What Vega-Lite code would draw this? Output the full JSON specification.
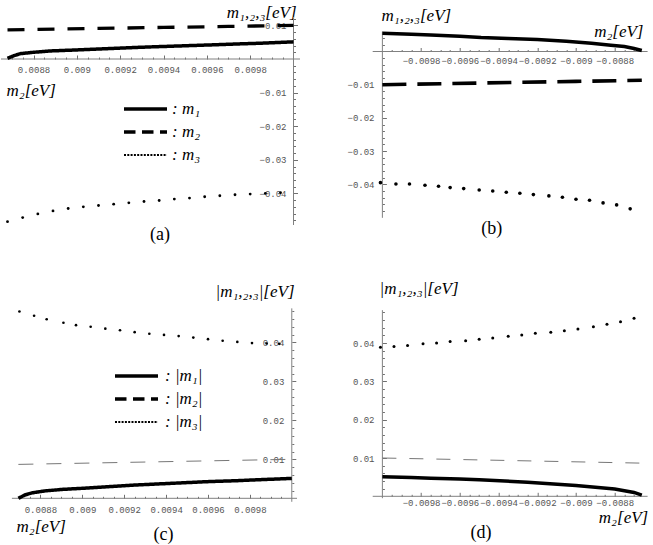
{
  "$schema": "https://vega.github.io/schema/vega-lite/v6.json",
  "padding": 0,
  "background": "white",
  "bounds": "flush",
  "columns": 2,
  "spacing": {"row": 82, "column": 72.7},
  "resolve": {
    "scale": {"strokeDash": "independent", "strokeWidth": "independent"},
    "legend": {"strokeDash": "independent", "strokeWidth": "independent"}
  },
  "config": {
    "view": {"stroke": null},
    "title": {"font": "Liberation Serif", "fontSize": 18, "fontWeight": "normal", "color": "black"},
    "axis": {
      "grid": false, "domain": false, "format": "~g",
      "labelFont": "Liberation Mono", "labelFontSize": 9, "labelColor": "#555",
      "labelFlush": false, "labelOverlap": false, "labelAngle": 0,
      "tickColor": "#707070", "tickSize": -4,
      "titleFont": "Liberation Serif", "titleFontSize": 17, "titleFontStyle": "italic",
      "titleFontWeight": "normal", "titleColor": "black", "titleAngle": 0, "titlePadding": 0
    },
    "legend": {
      "orient": "none", "title": null, "symbolType": "M-4,0H4", "symbolSize": 115.6,
      "symbolStrokeColor": "black", "symbolFillColor": "transparent",
      "labelFont": "Liberation Serif", "labelFontSize": 17,
      "labelFontStyle": "italic", "labelColor": "black", "rowPadding": 5, "padding": 0
    }
  },
  "datasets": {
    "a": [
      {"s": "1", "x": 0.00868, "y": 0.0002}, {"s": "1", "x": 0.00871, "y": 0.0010}, {"s": "1", "x": 0.00874, "y": 0.0016},
      {"s": "1", "x": 0.0088, "y": 0.0020}, {"s": "1", "x": 0.00888, "y": 0.0024}, {"s": "1", "x": 0.009, "y": 0.0027},
      {"s": "1", "x": 0.00911, "y": 0.0030}, {"s": "1", "x": 0.00922, "y": 0.0033}, {"s": "1", "x": 0.00934, "y": 0.0036},
      {"s": "1", "x": 0.00948, "y": 0.0039}, {"s": "1", "x": 0.00962, "y": 0.0042}, {"s": "1", "x": 0.00975, "y": 0.0045},
      {"s": "1", "x": 0.00985, "y": 0.0047}, {"s": "1", "x": 0.01, "y": 0.0051},
      {"s": "2", "x": 0.00868, "y": 0.00868}, {"s": "2", "x": 0.0091, "y": 0.0091}, {"s": "2", "x": 0.0094, "y": 0.0094},
      {"s": "2", "x": 0.0097, "y": 0.0097}, {"s": "2", "x": 0.01, "y": 0.01},
      {"s": "3", "x": 0.00868, "y": -0.0484}, {"s": "3", "x": 0.00875, "y": -0.0472}, {"s": "3", "x": 0.00882, "y": -0.0461},
      {"s": "3", "x": 0.00889, "y": -0.0452}, {"s": "3", "x": 0.00896, "y": -0.0445}, {"s": "3", "x": 0.00903, "y": -0.0440},
      {"s": "3", "x": 0.0091, "y": -0.0436}, {"s": "3", "x": 0.00917, "y": -0.0432}, {"s": "3", "x": 0.00924, "y": -0.0428},
      {"s": "3", "x": 0.00931, "y": -0.0424}, {"s": "3", "x": 0.00938, "y": -0.0421}, {"s": "3", "x": 0.00945, "y": -0.0417},
      {"s": "3", "x": 0.00952, "y": -0.0414}, {"s": "3", "x": 0.00959, "y": -0.0410}, {"s": "3", "x": 0.00966, "y": -0.0407},
      {"s": "3", "x": 0.00973, "y": -0.0404}, {"s": "3", "x": 0.0098, "y": -0.0402}, {"s": "3", "x": 0.00987, "y": -0.0400},
      {"s": "3", "x": 0.00994, "y": -0.0398}
    ],
    "b": [
      {"s": "1", "x": -0.01, "y": 0.0055}, {"s": "1", "x": -0.00985, "y": 0.0052}, {"s": "1", "x": -0.00975, "y": 0.0050},
      {"s": "1", "x": -0.0096, "y": 0.0046}, {"s": "1", "x": -0.00949, "y": 0.0042}, {"s": "1", "x": -0.00935, "y": 0.0039},
      {"s": "1", "x": -0.0092, "y": 0.0036}, {"s": "1", "x": -0.00905, "y": 0.0031}, {"s": "1", "x": -0.00892, "y": 0.0025},
      {"s": "1", "x": -0.00882, "y": 0.0019}, {"s": "1", "x": -0.00875, "y": 0.0015}, {"s": "1", "x": -0.0087, "y": 0.0009},
      {"s": "1", "x": -0.00866, "y": 0.0003},
      {"s": "2", "x": -0.01, "y": -0.01}, {"s": "2", "x": -0.0095, "y": -0.0095}, {"s": "2", "x": -0.009, "y": -0.009},
      {"s": "2", "x": -0.00866, "y": -0.00866},
      {"s": "3", "x": -0.01001, "y": -0.0395}, {"s": "3", "x": -0.00993, "y": -0.0399}, {"s": "3", "x": -0.00986, "y": -0.0399},
      {"s": "3", "x": -0.00978, "y": -0.0403}, {"s": "3", "x": -0.00971, "y": -0.0406}, {"s": "3", "x": -0.00965, "y": -0.0410},
      {"s": "3", "x": -0.00958, "y": -0.0413}, {"s": "3", "x": -0.0095, "y": -0.0417}, {"s": "3", "x": -0.00943, "y": -0.0420},
      {"s": "3", "x": -0.00936, "y": -0.0424}, {"s": "3", "x": -0.00929, "y": -0.0427}, {"s": "3", "x": -0.00922, "y": -0.0431},
      {"s": "3", "x": -0.00914, "y": -0.0435}, {"s": "3", "x": -0.00907, "y": -0.0439}, {"s": "3", "x": -0.009, "y": -0.0445},
      {"s": "3", "x": -0.00893, "y": -0.0448}, {"s": "3", "x": -0.00886, "y": -0.0456}, {"s": "3", "x": -0.00879, "y": -0.0462},
      {"s": "3", "x": -0.00872, "y": -0.0474}
    ],
    "c": [
      {"s": "1", "x": 0.008695, "y": 0.0}, {"s": "1", "x": 0.008726, "y": 0.00085}, {"s": "1", "x": 0.00876, "y": 0.0014},
      {"s": "1", "x": 0.008822, "y": 0.0019}, {"s": "1", "x": 0.00891, "y": 0.0023}, {"s": "1", "x": 0.009013, "y": 0.0026},
      {"s": "1", "x": 0.00913, "y": 0.0030}, {"s": "1", "x": 0.009252, "y": 0.0034}, {"s": "1", "x": 0.00937, "y": 0.0037},
      {"s": "1", "x": 0.00949, "y": 0.0040}, {"s": "1", "x": 0.00961, "y": 0.0043}, {"s": "1", "x": 0.009729, "y": 0.0045},
      {"s": "1", "x": 0.00986, "y": 0.0048}, {"s": "1", "x": 0.01, "y": 0.0051},
      {"s": "2", "x": 0.008695, "y": 0.008695}, {"s": "2", "x": 0.0093, "y": 0.0093}, {"s": "2", "x": 0.01, "y": 0.01},
      {"s": "3", "x": 0.0087, "y": 0.0479}, {"s": "3", "x": 0.00877, "y": 0.0468}, {"s": "3", "x": 0.00883, "y": 0.0459},
      {"s": "3", "x": 0.00891, "y": 0.0450}, {"s": "3", "x": 0.00897, "y": 0.0444}, {"s": "3", "x": 0.00904, "y": 0.0440},
      {"s": "3", "x": 0.00911, "y": 0.0435}, {"s": "3", "x": 0.00918, "y": 0.0431}, {"s": "3", "x": 0.00925, "y": 0.0426},
      {"s": "3", "x": 0.00932, "y": 0.0422}, {"s": "3", "x": 0.00939, "y": 0.0419}, {"s": "3", "x": 0.00946, "y": 0.0416},
      {"s": "3", "x": 0.00953, "y": 0.0412}, {"s": "3", "x": 0.0096, "y": 0.0408}, {"s": "3", "x": 0.00967, "y": 0.0404},
      {"s": "3", "x": 0.00974, "y": 0.0401}, {"s": "3", "x": 0.00981, "y": 0.0398}, {"s": "3", "x": 0.00988, "y": 0.0397},
      {"s": "3", "x": 0.00994, "y": 0.0396}
    ],
    "d": [
      {"s": "1", "x": -0.01, "y": 0.0051}, {"s": "1", "x": -0.00985, "y": 0.0049}, {"s": "1", "x": -0.00975, "y": 0.0047},
      {"s": "1", "x": -0.0096, "y": 0.0045}, {"s": "1", "x": -0.0095, "y": 0.0043}, {"s": "1", "x": -0.00925, "y": 0.0037},
      {"s": "1", "x": -0.009, "y": 0.0028}, {"s": "1", "x": -0.0088, "y": 0.0019}, {"s": "1", "x": -0.0087, "y": 0.0010},
      {"s": "1", "x": -0.00866, "y": 0.0003},
      {"s": "2", "x": -0.01, "y": 0.01}, {"s": "2", "x": -0.0093, "y": 0.0093}, {"s": "2", "x": -0.00866, "y": 0.00866},
      {"s": "3", "x": -0.01001, "y": 0.0389}, {"s": "3", "x": -0.00994, "y": 0.0391}, {"s": "3", "x": -0.00987, "y": 0.0394},
      {"s": "3", "x": -0.00979, "y": 0.0398}, {"s": "3", "x": -0.00972, "y": 0.0400}, {"s": "3", "x": -0.00965, "y": 0.0404},
      {"s": "3", "x": -0.00957, "y": 0.0406}, {"s": "3", "x": -0.0095, "y": 0.0410}, {"s": "3", "x": -0.00943, "y": 0.0413},
      {"s": "3", "x": -0.00935, "y": 0.0418}, {"s": "3", "x": -0.00928, "y": 0.0421}, {"s": "3", "x": -0.00921, "y": 0.0426},
      {"s": "3", "x": -0.00913, "y": 0.0428}, {"s": "3", "x": -0.00906, "y": 0.0432}, {"s": "3", "x": -0.00899, "y": 0.0437},
      {"s": "3", "x": -0.00891, "y": 0.0443}, {"s": "3", "x": -0.00884, "y": 0.0449}, {"s": "3", "x": -0.00877, "y": 0.0456},
      {"s": "3", "x": -0.0087, "y": 0.0465}
    ]
  },
  "concat": [
    {
      "width": 299, "height": 226,
      "title": {"text": "(a)", "orient": "bottom", "anchor": "middle", "dx": 9.5, "offset": 0},
      "resolve": {"axis": {"x": "independent", "y": "independent"}},
      "layer": [
        {"data": {"values": [{}]}, "mark": {"type": "rule", "color": "#808080", "strokeWidth": 1},
         "encoding": {"x": {"datum": 0.00865, "axis": null}, "x2": {"datum": 0.01003}, "y": {"datum": 0, "axis": null}}},
        {"data": {"values": [{}]}, "mark": {"type": "rule", "color": "#808080", "strokeWidth": 1},
         "encoding": {"x": {"datum": 0.01, "axis": null}, "y": {"datum": -0.0494, "axis": null}, "y2": {"datum": 0.0125}}},
        {"data": {"name": "a"}, "transform": [{"filter": "datum.s == '3'"}],
         "mark": {"type": "point", "shape": "circle", "filled": true, "size": 8, "opacity": 1, "color": "black"},
         "encoding": {"x": {"field": "x", "type": "quantitative", "axis": null}, "y": {"field": "y", "type": "quantitative", "axis": null}}},
        {"data": {"name": "a"}, "transform": [{"filter": "datum.s == '2'"}],
         "mark": {"type": "line", "color": "black", "strokeWidth": 3.3, "strokeDash": [17, 13]},
         "encoding": {
           "x": {"field": "x", "type": "quantitative",
             "axis": {"orient": "bottom", "offset": -167, "labels": false, "title": null, "tickSize": -2,
               "values": [0.0087,0.00875,0.00885,0.0089,0.00895,0.00905,0.0091,0.00915,0.00925,0.0093,0.00935,0.00945,0.0095,0.00955,0.00965,0.0097,0.00975,0.00985,0.0099,0.00995]}},
           "y": {"field": "y", "type": "quantitative",
             "axis": {"orient": "left", "offset": -292.5, "labels": false, "title": null, "tickSize": -2,
               "values": [-0.048,-0.046,-0.044,-0.042,-0.038,-0.036,-0.034,-0.032,-0.028,-0.026,-0.024,-0.022,-0.018,-0.016,-0.014,-0.012,-0.008,-0.006,-0.004,-0.002,0.002,0.004,0.006,0.008,0.012]}}}},
        {"data": {"name": "a"}, "transform": [{"filter": "datum.s == '1'"}],
         "mark": {"type": "line", "color": "black"},
         "encoding": {
           "x": {"field": "x", "type": "quantitative",
             "scale": {"domain": [0.00865, 0.01003], "nice": false, "zero": false},
             "axis": {"orient": "bottom", "offset": -167,
               "values": [0.0088,0.009,0.0092,0.0094,0.0096,0.0098],
               "labelPadding": 10, "labelBaseline": "top", "labelAlign": "center",
               "title": "m₂[eV]", "titleX": 5, "titleY": 31, "titleAlign": "left", "titleBaseline": "middle"}},
           "y": {"field": "y", "type": "quantitative",
             "scale": {"domain": [-0.0497, 0.01756], "nice": false, "zero": false},
             "axis": {"orient": "left", "offset": -292.5,
               "values": [-0.04,-0.03,-0.02,-0.01,0.01],
               "labelPadding": 11.5, "labelAlign": "right", "labelBaseline": "middle",
               "title": "m₁,₂,₃[eV]", "titleX": 2.5, "titleY": 12.7, "titleAlign": "right", "titleBaseline": "middle"}},
           "strokeDash": {"field": "s", "type": "nominal",
             "scale": {"domain": ["1", "2", "3"], "range": [[1, 0], [11.5, 6.5], [2, 1.3]]},
             "legend": {"legendX": 136, "legendY": 100.5, "labelOffset": 18,
               "labelExpr": "': m' + (datum.label == '1' ? '₁' : datum.label == '2' ? '₂' : '₃')"}},
           "strokeWidth": {"field": "s", "type": "nominal",
             "scale": {"type": "ordinal", "domain": ["1", "2", "3"], "range": [3.5, 3.5, 2]},
             "legend": {"legendX": 136, "legendY": 100.5, "labelOffset": 18,
               "labelExpr": "': m' + (datum.label == '1' ? '₁' : datum.label == '2' ? '₂' : '₃')"}}
         }}
      ]
    },
    {
      "width": 272, "height": 226,
      "title": {"text": "(b)", "orient": "bottom", "anchor": "middle", "dx": -17, "offset": -6},
      "resolve": {"axis": {"x": "independent", "y": "independent"}},
      "layer": [
        {"data": {"values": [{}]}, "mark": {"type": "rule", "color": "#808080", "strokeWidth": 1},
         "encoding": {"x": {"datum": -0.01005, "axis": null}, "x2": {"datum": -0.00863}, "y": {"datum": 0, "axis": null}}},
        {"data": {"values": [{}]}, "mark": {"type": "rule", "color": "#808080", "strokeWidth": 1},
         "encoding": {"x": {"datum": -0.01, "axis": null}, "y": {"datum": -0.0501, "axis": null}, "y2": {"datum": 0.006}}},
        {"data": {"name": "b"}, "transform": [{"filter": "datum.s == '3'"}],
         "mark": {"type": "point", "shape": "circle", "filled": true, "size": 13, "opacity": 1, "color": "black"},
         "encoding": {"x": {"field": "x", "type": "quantitative", "axis": null}, "y": {"field": "y", "type": "quantitative", "axis": null}}},
        {"data": {"name": "b"}, "transform": [{"filter": "datum.s == '2'"}],
         "mark": {"type": "line", "color": "black", "strokeWidth": 3.6, "strokeDash": [24, 11]},
         "encoding": {
           "x": {"field": "x", "type": "quantitative",
             "axis": {"orient": "bottom", "offset": -174.5, "labels": false, "title": null, "tickSize": -2,
               "values": [-0.00995,-0.0099,-0.00985,-0.00975,-0.0097,-0.00965,-0.00955,-0.0095,-0.00945,-0.00935,-0.0093,-0.00925,-0.00915,-0.0091,-0.00905,-0.00895,-0.0089,-0.00885,-0.00875,-0.0087]}},
           "y": {"field": "y", "type": "quantitative",
             "axis": {"orient": "left", "offset": -9.7, "labels": false, "title": null, "tickSize": -2,
               "values": [-0.048,-0.046,-0.044,-0.042,-0.038,-0.036,-0.034,-0.032,-0.028,-0.026,-0.024,-0.022,-0.018,-0.016,-0.014,-0.012,-0.008,-0.006,-0.004,-0.002,0.002,0.004]}}}},
        {"data": {"name": "b"}, "transform": [{"filter": "datum.s == '1'"}],
         "mark": {"type": "line", "color": "black", "strokeWidth": 3.5},
         "encoding": {
           "x": {"field": "x", "type": "quantitative",
             "scale": {"domain": [-0.01005, -0.008645], "nice": false, "zero": false},
             "axis": {"orient": "bottom", "offset": -174.5,
               "values": [-0.0098,-0.0096,-0.0094,-0.0092,-0.009,-0.0088],
               "labelPadding": 8.5, "labelBaseline": "top", "labelAlign": "center",
               "title": "m₂[eV]", "titleX": 270.3, "titleY": -20, "titleAlign": "right", "titleBaseline": "middle"}},
           "y": {"field": "y", "type": "quantitative",
             "scale": {"domain": [-0.05256, 0.015512], "nice": false, "zero": false},
             "axis": {"orient": "left", "offset": -9.7,
               "values": [-0.04,-0.03,-0.02,-0.01],
               "labelPadding": 12.4, "labelAlign": "right", "labelBaseline": "middle",
               "title": "m₁,₂,₃[eV]", "titleX": -1.4, "titleY": 15, "titleAlign": "left", "titleBaseline": "middle"}}
         }}
      ]
    },
    {
      "width": 299, "height": 193.5,
      "title": {"text": "(c)", "orient": "bottom", "anchor": "middle", "dx": 13, "offset": -9},
      "resolve": {"axis": {"x": "independent", "y": "independent"}},
      "layer": [
        {"data": {"values": [{}]}, "mark": {"type": "rule", "color": "#808080", "strokeWidth": 1},
         "encoding": {"x": {"datum": 0.008664, "axis": null}, "x2": {"datum": 0.010025}, "y": {"datum": 0, "axis": null}}},
        {"data": {"values": [{}]}, "mark": {"type": "rule", "color": "#808080", "strokeWidth": 1},
         "encoding": {"x": {"datum": 0.01, "axis": null}, "y": {"datum": -0.0009, "axis": null}, "y2": {"datum": 0.0487}}},
        {"data": {"name": "c"}, "transform": [{"filter": "datum.s == '3'"}],
         "mark": {"type": "point", "shape": "circle", "filled": true, "size": 7, "opacity": 1, "color": "black"},
         "encoding": {"x": {"field": "x", "type": "quantitative", "axis": null}, "y": {"field": "y", "type": "quantitative", "axis": null}}},
        {"data": {"name": "c"}, "transform": [{"filter": "datum.s == '2'"}],
         "mark": {"type": "line", "color": "#777", "strokeWidth": 1, "strokeDash": [15, 13]},
         "encoding": {
           "x": {"field": "x", "type": "quantitative",
             "axis": {"orient": "bottom", "offset": -3.2, "labels": false, "title": null, "tickSize": -2,
               "values": [0.0087,0.00875,0.00885,0.0089,0.00895,0.00905,0.0091,0.00915,0.00925,0.0093,0.00935,0.00945,0.0095,0.00955,0.00965,0.0097,0.00975,0.00985,0.0099,0.00995]}},
           "y": {"field": "y", "type": "quantitative",
             "axis": {"orient": "left", "offset": -290.8, "labels": false, "title": null, "tickSize": -2,
               "values": [0.002,0.004,0.006,0.008,0.012,0.014,0.016,0.018,0.022,0.024,0.026,0.028,0.032,0.034,0.036,0.038,0.042,0.044,0.046,0.048]}}}},
        {"data": {"name": "c"}, "transform": [{"filter": "datum.s == '1'"}],
         "mark": {"type": "line", "color": "black"},
         "encoding": {
           "x": {"field": "x", "type": "quantitative",
             "scale": {"domain": [0.008612, 0.0100392], "nice": false, "zero": false},
             "axis": {"orient": "bottom", "offset": -3.2,
               "values": [0.0088,0.009,0.0092,0.0094,0.0096,0.0098],
               "labelPadding": 11.4, "labelBaseline": "top", "labelAlign": "center",
               "title": "m₂[eV]", "titleX": 15, "titleY": 28.4, "titleAlign": "left", "titleBaseline": "middle"}},
           "y": {"field": "y", "type": "quantitative",
             "scale": {"domain": [-0.00082, 0.048795], "nice": false, "zero": false},
             "axis": {"orient": "left", "offset": -290.8,
               "values": [0.01,0.02,0.03,0.04],
               "labelPadding": 12, "labelAlign": "right", "labelBaseline": "middle",
               "title": "|m₁,₂,₃|[eV]", "titleX": 2.2, "titleY": -16.3, "titleAlign": "right", "titleBaseline": "middle"}},
           "strokeDash": {"field": "s", "type": "nominal",
             "scale": {"domain": ["1", "2", "3"], "range": [[1, 0], [11.5, 6.5], [2, 1.3]]},
             "legend": {"legendX": 127, "legendY": 59.5, "labelOffset": 20,
               "labelExpr": "': |m' + (datum.label == '1' ? '₁' : datum.label == '2' ? '₂' : '₃') + '|'"}},
           "strokeWidth": {"field": "s", "type": "nominal",
             "scale": {"type": "ordinal", "domain": ["1", "2", "3"], "range": [3.5, 3.5, 2]},
             "legend": {"legendX": 127, "legendY": 59.5, "labelOffset": 20,
               "labelExpr": "': |m' + (datum.label == '1' ? '₁' : datum.label == '2' ? '₂' : '₃') + '|'"}}
         }}
      ]
    },
    {
      "width": 272, "height": 190.3,
      "title": {"text": "(d)", "orient": "bottom", "anchor": "middle", "dx": -27.7, "offset": -1},
      "resolve": {"axis": {"x": "independent", "y": "independent"}},
      "layer": [
        {"data": {"values": [{}]}, "mark": {"type": "rule", "color": "#808080", "strokeWidth": 1},
         "encoding": {"x": {"datum": -0.01005, "axis": null}, "x2": {"datum": -0.00863}, "y": {"datum": 0, "axis": null}}},
        {"data": {"values": [{}]}, "mark": {"type": "rule", "color": "#808080", "strokeWidth": 1},
         "encoding": {"x": {"datum": -0.01, "axis": null}, "y": {"datum": -0.0005, "axis": null}, "y2": {"datum": 0.0486}}},
        {"data": {"name": "d"}, "transform": [{"filter": "datum.s == '3'"}],
         "mark": {"type": "point", "shape": "circle", "filled": true, "size": 9, "opacity": 1, "color": "black"},
         "encoding": {"x": {"field": "x", "type": "quantitative", "axis": null}, "y": {"field": "y", "type": "quantitative", "axis": null}}},
        {"data": {"name": "d"}, "transform": [{"filter": "datum.s == '2'"}],
         "mark": {"type": "line", "color": "#777", "strokeWidth": 1, "strokeDash": [14, 13]},
         "encoding": {
           "x": {"field": "x", "type": "quantitative",
             "axis": {"orient": "bottom", "offset": -2, "labels": false, "title": null, "tickSize": -2,
               "values": [-0.00995,-0.0099,-0.00985,-0.00975,-0.0097,-0.00965,-0.00955,-0.0095,-0.00945,-0.00935,-0.0093,-0.00925,-0.00915,-0.0091,-0.00905,-0.00895,-0.0089,-0.00885,-0.00875,-0.0087]}},
           "y": {"field": "y", "type": "quantitative",
             "axis": {"orient": "left", "offset": -9.7, "labels": false, "title": null, "tickSize": -2,
               "values": [0.002,0.004,0.006,0.008,0.012,0.014,0.016,0.018,0.022,0.024,0.026,0.028,0.032,0.034,0.036,0.038,0.042,0.044,0.046,0.048]}}}},
        {"data": {"name": "d"}, "transform": [{"filter": "datum.s == '1'"}],
         "mark": {"type": "line", "color": "black", "strokeWidth": 3.5},
         "encoding": {
           "x": {"field": "x", "type": "quantitative",
             "scale": {"domain": [-0.01005, -0.008645], "nice": false, "zero": false},
             "axis": {"orient": "bottom", "offset": -2,
               "values": [-0.0098,-0.0096,-0.0094,-0.0092,-0.009,-0.0088],
               "labelPadding": 6.5, "labelBaseline": "top", "labelAlign": "center",
               "title": "m₂[eV]", "titleX": 275, "titleY": 21, "titleAlign": "right", "titleBaseline": "middle"}},
           "y": {"field": "y", "type": "quantitative",
             "scale": {"domain": [-0.000522, 0.049164], "nice": false, "zero": false},
             "axis": {"orient": "left", "offset": -9.7,
               "values": [0.01,0.02,0.03,0.04],
               "labelPadding": 12.4, "labelAlign": "right", "labelBaseline": "middle",
               "title": "|m₁,₂,₃|[eV]", "titleX": -3.4, "titleY": -19.7, "titleAlign": "left", "titleBaseline": "middle"}}
         }}
      ]
    }
  ]
}
